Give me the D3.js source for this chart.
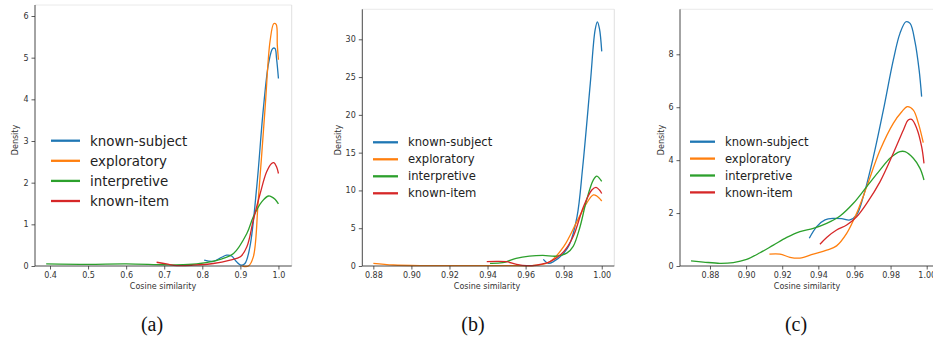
<!DOCTYPE html>
<html lang="en">
<head>
<meta charset="UTF-8">
<title>Cosine similarity densities</title>
<script src="https://d3js.org/d3.v7.min.js"></script>
<style>
    body { margin: 0; background: #fff; }
    .tick text { font-family: "DejaVu Sans", sans-serif; font-size: 8px; fill: #333; }
    .tick line { stroke: #333; stroke-width: 0.8; }
    .label { font-family: "DejaVu Sans", sans-serif; font-size: 8px; fill: #333; }
    .legend text { font-family: "DejaVu Sans", sans-serif; fill: #222; }
    .caption { font-family: "Liberation Serif", "Times New Roman", serif; font-size: 20px; fill: #111; }
</style>
</head>
<body>
<svg id="chart"></svg>
<script>
    const width = 933;
    const height = 341;

    const seriesNames = ['known-subject', 'exploratory', 'interpretive', 'known-item'];
    const seriesColors = ['#1f77b4', '#ff7f0e', '#2ca02c', '#d62728'];

    // (a)
    const aKnownSubject = [[0.805, 0.14], [0.829, 0.11], [0.851, 0.21], [0.864, 0.26], [0.877, 0.24], [0.890, 0.10], [0.901, 0.02], [0.912, 0.06], [0.925, 0.46], [0.943, 1.9], [0.960, 3.74], [0.974, 4.86], [0.985, 5.22], [0.991, 5.22], [0.995, 4.98], [1.0, 4.5]];
    const aExploratory = [[0.905, 0.0], [0.921, 0.0], [0.934, 0.22], [0.947, 1.58], [0.965, 3.8], [0.978, 5.4], [0.988, 5.82], [0.994, 5.8], [0.997, 5.3], [1.0, 4.95]];
    const aInterpretive = [[0.39, 0.05], [0.5, 0.04], [0.6, 0.05], [0.7, 0.03], [0.75, 0.03], [0.794, 0.06], [0.847, 0.16], [0.882, 0.3], [0.917, 0.78], [0.934, 1.18], [0.956, 1.54], [0.974, 1.68], [0.982, 1.66], [0.991, 1.6], [1.0, 1.49]];
    const aKnownItem = [[0.68, 0.09], [0.706, 0.05], [0.733, 0.01], [0.777, 0.02], [0.829, 0.06], [0.873, 0.14], [0.9, 0.22], [0.917, 0.46], [0.934, 1.1], [0.952, 1.74], [0.969, 2.26], [0.982, 2.46], [0.988, 2.48], [0.995, 2.38], [1.0, 2.22]];

    // (b)
    const bKnownSubject = [[0.9693, 0.88], [0.972, 0.35], [0.9746, 0.57], [0.98, 1.68], [0.983, 2.8], [0.987, 6.5], [0.990, 13.1], [0.994, 24.2], [0.9965, 31.2], [0.9977, 32.3], [0.9988, 31.4], [1.0, 28.4]];
    const bExploratory = [[0.88, 0.35], [0.8905, 0.13], [0.908, 0.05], [0.93, 0.04], [0.95, 0.05], [0.9658, 0.1], [0.9728, 0.57], [0.98, 2.56], [0.987, 5.9], [0.992, 8.3], [0.9956, 9.4], [0.9974, 9.26], [1.0, 8.6]];
    const bInterpretive = [[0.9413, 0.35], [0.948, 0.44], [0.955, 1.0], [0.962, 1.3], [0.969, 1.4], [0.9763, 1.3], [0.9816, 1.7], [0.985, 2.6], [0.9886, 5.2], [0.992, 8.7], [0.9956, 11.4], [0.9974, 11.9], [0.9988, 11.6], [1.0, 11.2]];
    const bKnownItem = [[0.9396, 0.57], [0.9448, 0.62], [0.95, 0.57], [0.9553, 0.22], [0.9606, 0.04], [0.9658, 0.13], [0.9728, 0.57], [0.98, 1.9], [0.985, 3.9], [0.9904, 7.85], [0.9948, 10.05], [0.997, 10.4], [0.9988, 10.05], [1.0, 9.6]];

    // (c)
    const cKnownSubject = [[0.935, 1.05], [0.9391, 1.49], [0.9437, 1.74], [0.9483, 1.80], [0.9529, 1.79], [0.9575, 1.74], [0.9612, 1.93], [0.9649, 2.62], [0.9705, 4.13], [0.976, 5.89], [0.9815, 7.78], [0.9852, 8.79], [0.9885, 9.23], [0.9908, 9.17], [0.9935, 8.48], [0.9958, 7.41], [0.9972, 6.4]];
    const cExploratory = [[0.9129, 0.45], [0.9188, 0.45], [0.9243, 0.33], [0.9298, 0.30], [0.9372, 0.45], [0.9446, 0.6], [0.9501, 0.76], [0.9557, 1.23], [0.9612, 1.99], [0.9668, 3.0], [0.9742, 4.38], [0.9815, 5.39], [0.9862, 5.83], [0.9893, 6.02], [0.9926, 5.89], [0.9954, 5.39], [0.9981, 4.66]];
    const cInterpretive = [[0.8695, 0.19], [0.8763, 0.15], [0.8855, 0.1], [0.8929, 0.13], [0.9003, 0.25], [0.9077, 0.5], [0.9151, 0.79], [0.9225, 1.08], [0.9298, 1.3], [0.9372, 1.42], [0.9446, 1.61], [0.952, 1.89], [0.9594, 2.37], [0.9668, 3.0], [0.9742, 3.63], [0.9797, 4.07], [0.9852, 4.32], [0.988, 4.32], [0.9926, 4.07], [0.9963, 3.69], [0.9985, 3.25]];
    const cKnownItem = [[0.9409, 0.82], [0.9446, 1.08], [0.9501, 1.36], [0.9557, 1.55], [0.9612, 1.86], [0.9668, 2.37], [0.9742, 3.19], [0.9815, 4.26], [0.9871, 5.14], [0.9898, 5.52], [0.9917, 5.54], [0.9945, 5.2], [0.9972, 4.51], [0.9985, 3.88]];

    const aXTicks = [0.4, 0.5, 0.6, 0.7, 0.8, 0.9, 1.0];
    const aYTicks = [0, 1, 2, 3, 4, 5, 6];
    const bXTicks = [0.88, 0.90, 0.92, 0.94, 0.96, 0.98, 1.00];
    const bYTicks = [0, 5, 10, 15, 20, 25, 30];
    const cXTicks = [0.88, 0.90, 0.92, 0.94, 0.96, 0.98, 1.00];
    const cYTicks = [0, 2, 4, 6, 8];
    const captions = ['(a)', '(b)', '(c)'];

    // layout of each subplot
    const panels = [
        {
            series: [aKnownSubject, aExploratory, aInterpretive, aKnownItem],
            xTicks: aXTicks, yTicks: aYTicks, xFmt: '.1f',
            left: 35, right: 291.7, top: 5, bottom: 266,
            xDomain: [0.3606, 1.0348], yDomain: [0, 6.264],
            yLabelX: 15, xLabelX: 163, captionX: 152,
            legend: { x1: 51, x2: 80, tx: 90, y0: 140.7, dy: 20.1, fs: 13.4 }
        },
        {
            series: [bKnownSubject, bExploratory, bInterpretive, bKnownItem],
            xTicks: bXTicks, yTicks: bYTicks, xFmt: '.2f',
            left: 362.3, right: 614.3, top: 9.3, bottom: 266,
            xDomain: [0.8742, 1.0066], yDomain: [0, 33.97],
            yLabelX: 338, xLabelX: 487, captionX: 473,
            legend: { x1: 373, x2: 398, tx: 408, y0: 142.3, dy: 17, fs: 11.6 }
        },
        {
            series: [cKnownSubject, cExploratory, cInterpretive, cKnownItem],
            xTicks: cXTicks, yTicks: cYTicks, xFmt: '.2f',
            left: 680, right: 935, top: 9.3, bottom: 266,
            xDomain: [0.8634, 1.0046], yDomain: [0, 9.70],
            yLabelX: 660.7, xLabelX: 807, captionX: 796,
            legend: { x1: 690, x2: 715, tx: 725, y0: 141.7, dy: 16.9, fs: 11.5 }
        }
    ];

    const svg = d3.select('#chart')
        .attr('width', width)
        .attr('height', height);

    panels.forEach((p, i) => {
        const x = d3.scaleLinear().domain(p.xDomain).range([p.left, p.right]);
        const y = d3.scaleLinear().domain(p.yDomain).range([p.bottom, p.top]);
        const g = svg.append('g');

        // light top / right spines
        g.append('line').attr('x1', p.left).attr('x2', p.right).attr('y1', p.top).attr('y2', p.top)
            .attr('stroke', '#e4e4e4').attr('stroke-width', 0.8);
        g.append('line').attr('x1', p.right).attr('x2', p.right).attr('y1', p.top).attr('y2', p.bottom)
            .attr('stroke', '#d8d8d8').attr('stroke-width', 0.8);

        const line = d3.line()
            .x(d => x(d[0]))
            .y(d => y(d[1]))
            .curve(d3.curveCatmullRom.alpha(0.5));

        p.series.forEach((s, j) => {
            g.append('path')
                .datum(s)
                .attr('d', line)
                .attr('fill', 'none')
                .attr('stroke', seriesColors[j])
                .attr('stroke-width', 1.3);
        });

        const xAxis = g.append('g')
            .attr('transform', `translate(0,${p.bottom})`)
            .call(d3.axisBottom(x).tickValues(p.xTicks).tickFormat(d3.format(p.xFmt)).tickSize(3.5).tickPadding(3));
        xAxis.select('.domain').attr('stroke', '#333').attr('stroke-width', 0.9)
            .attr('d', `M${p.left},0H${p.right}`);

        const yAxis = g.append('g')
            .attr('transform', `translate(${p.left},0)`)
            .call(d3.axisLeft(y).tickValues(p.yTicks).tickFormat(d3.format('d')).tickSize(3.5).tickPadding(3));
        yAxis.select('.domain').attr('stroke', '#333').attr('stroke-width', 0.9)
            .attr('d', `M0,${p.top}V${p.bottom}`);

        g.append('text')
            .attr('class', 'label')
            .attr('x', p.xLabelX)
            .attr('y', 289)
            .attr('text-anchor', 'middle')
            .text('Cosine similarity');

        g.append('text')
            .attr('class', 'label')
            .attr('transform', `translate(${p.yLabelX + 3},140) rotate(-90)`)
            .attr('text-anchor', 'middle')
            .text('Density');

        // legend
        const lg = g.append('g').attr('class', 'legend');
        seriesNames.forEach((name, j) => {
            const ly = p.legend.y0 + j * p.legend.dy;
            lg.append('line')
                .attr('x1', p.legend.x1).attr('x2', p.legend.x2)
                .attr('y1', ly).attr('y2', ly)
                .attr('stroke', seriesColors[j])
                .attr('stroke-width', 2.3);
            lg.append('text')
                .attr('x', p.legend.tx)
                .attr('y', ly + p.legend.fs * 0.36)
                .style('font-size', p.legend.fs + 'px')
                .text(name);
        });

        svg.append('text')
            .attr('class', 'caption')
            .attr('x', p.captionX)
            .attr('y', 331)
            .attr('text-anchor', 'middle')
            .text(captions[i]);
    });
</script>
</body>
</html>
